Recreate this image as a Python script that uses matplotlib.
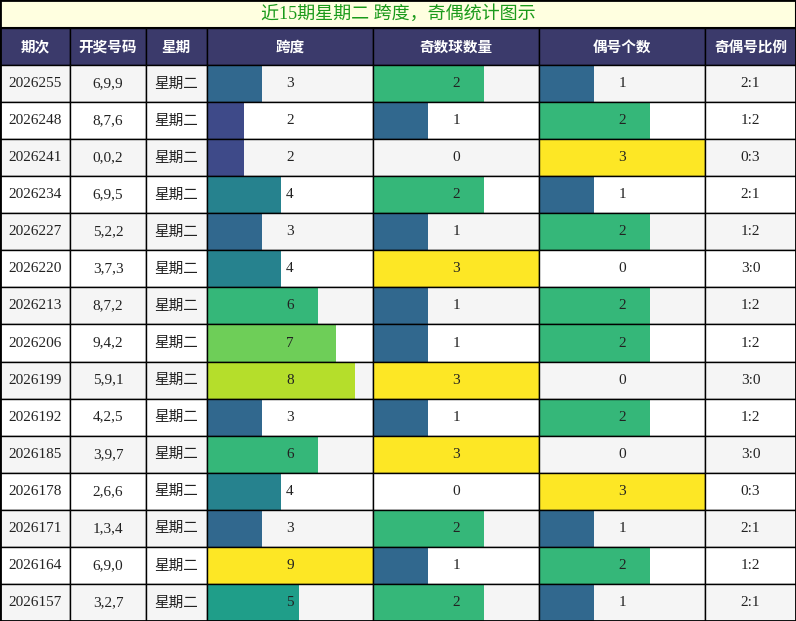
import matplotlib
matplotlib.use("Agg")
import matplotlib.pyplot as plt
from matplotlib.patches import Rectangle

periods = ["2026255","2026248","2026241","2026234","2026227","2026220","2026213","2026206",
           "2026199","2026192","2026185","2026178","2026171","2026164","2026157"]
draws = ["6,9,9","8,7,6","0,0,2","6,9,5","5,2,2","3,7,3","8,7,2","9,4,2",
         "5,9,1","4,2,5","3,9,7","2,6,6","1,3,4","6,9,0","3,2,7"]
weekday = "星期二"
spans = [3,2,2,4,3,4,6,7,8,3,6,4,3,9,5]
odds = [2,1,0,2,1,3,1,1,3,1,3,0,2,1,2]
evens = [1,2,3,1,2,0,2,2,0,2,0,3,1,2,1]
ratios = ["2:1","1:2","0:3","2:1","1:2","3:0","1:2","1:2","3:0","1:2","3:0","0:3","2:1","1:2","2:1"]
headers = ["期次","开奖号码","星期","跨度","奇数球数量","偶号个数","奇偶号比例"]
title = "近15期星期二 跨度，奇偶统计图示"

span_colors = {1:"#472d7b",2:"#3e4a89",3:"#31688e",4:"#26828e",5:"#1f9e89",6:"#35b779",7:"#6ece58",8:"#b5de2b",9:"#fde725"}
cnt_colors = {1:"#31688e",2:"#35b779",3:"#fde725"}

W, H = 796, 621
fig = plt.figure(figsize=(W/100, H/100), dpi=100)
ax = fig.add_axes([0,0,1,1])
ax.set_xlim(0, W); ax.set_ylim(H, 0); ax.axis("off")

cols = [0,70,146,207,373,539,705,796]
title_h, head_b = 28, 65
rh = (H - head_b) / len(periods)
FS = ["Liberation Serif", "Noto Sans CJK SC"]
FC = ["Noto Sans CJK SC", "DejaVu Sans"]

ax.add_patch(Rectangle((0,0), W, title_h, facecolor="#ffffe0", edgecolor="black", lw=1.5))
ax.text(W/2, title_h/2, title, ha="center", va="center", fontsize=13, color="#1a9a1a", family=FS)
for i, h in enumerate(headers):
    ax.add_patch(Rectangle((cols[i], title_h), cols[i+1]-cols[i], head_b-title_h, facecolor="#3b3a6b", edgecolor="black", lw=1))
    ax.text((cols[i]+cols[i+1])/2, (title_h+head_b)/2, h, ha="center", va="center", fontsize=10.5,
            color="white", weight="bold", family=FC)

for r in range(len(periods)):
    y0 = head_b + r*rh
    bg = "#f5f5f5" if r % 2 == 0 else "white"
    yc = y0 + rh/2
    texts = [periods[r], draws[r], weekday, str(spans[r]), str(odds[r]), str(evens[r]), ratios[r]]
    for c in range(7):
        x0, x1 = cols[c], cols[c+1]
        ax.add_patch(Rectangle((x0, y0), x1-x0, rh, facecolor=bg, edgecolor="none"))
        if c == 3:
            v = spans[r]; w = (x1-x0)*v/9
            if v: ax.add_patch(Rectangle((x0, y0), w, rh, facecolor=span_colors[v], edgecolor="none"))
        elif c in (4, 5):
            v = odds[r] if c == 4 else evens[r]; w = (x1-x0)*v/3
            if v: ax.add_patch(Rectangle((x0, y0), w, rh, facecolor=cnt_colors[v], edgecolor="none"))
        ax.add_patch(Rectangle((x0, y0), x1-x0, rh, facecolor="none", edgecolor="black", lw=1))
        fam = FC if c == 2 else FS
        ax.text((x0+x1)/2, yc, texts[c], ha="center", va="center", fontsize=11 if c != 2 else 10.5,
                color="#222222", family=fam)

ax.add_patch(Rectangle((0,0), W, H, facecolor="none", edgecolor="black", lw=2))
fig.savefig("out.png", dpi=100)
